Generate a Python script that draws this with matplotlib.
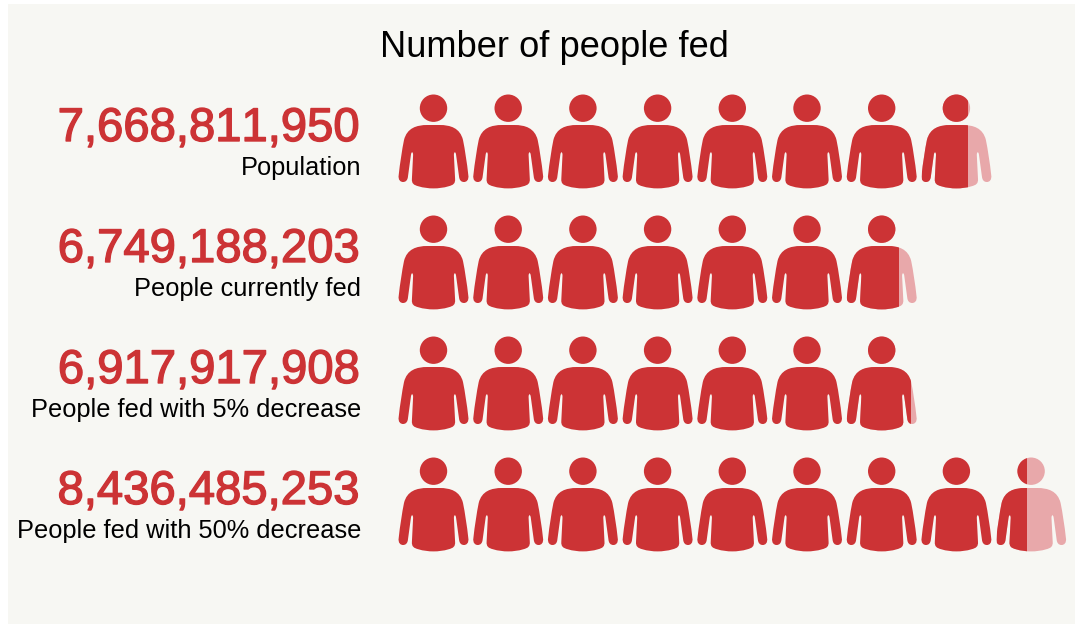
import matplotlib
matplotlib.use("Agg")
import matplotlib.pyplot as plt
from matplotlib.patches import PathPatch, Rectangle
from matplotlib.path import Path
from matplotlib.transforms import Affine2D
import matplotlib.patheffects as pe

plt.rcParams['font.family'] = ['Liberation Sans', 'DejaVu Sans']
# keeps the digits evenly spaced, "11" would otherwise close up
plt.rcParams['text.kerning_factor'] = 6

title = "Number of people fed"
labels = ["Population", "People currently fed", "People fed with 5% decrease", "People fed with 50% decrease"]
people = [7668811950, 6749188203, 6917917908, 8436485253]
per_icon = 1000000000

RED = "#CC3335"
PALE = "#E8A8AA"
BG = "#F7F7F3"


def half_body():
    # right half of the torso and arm, x from the centre line, y from the shoulder
    return [
        (Path.LINETO, (6, 0)),
        (Path.CURVE4, (17, 0)), (Path.CURVE4, (26.5, 3)), (Path.CURVE4, (29.5, 15)),
        (Path.CURVE4, (31.5, 25)), (Path.CURVE4, (33.5, 38)), (Path.CURVE4, (34.8, 50)),
        (Path.CURVE4, (35.6, 55)), (Path.CURVE4, (33, 57)), (Path.CURVE4, (30.5, 57)),
        (Path.CURVE4, (27.5, 57)), (Path.CURVE4, (26, 55)), (Path.CURVE4, (25.6, 52)),
        (Path.LINETO, (22.6, 30)),
        (Path.CURVE4, (22.2, 26.3)), (Path.CURVE4, (20.4, 26.3)), (Path.CURVE4, (20.4, 30)),
        (Path.LINETO, (21.6, 54)),
        (Path.CURVE4, (21.8, 58.5)), (Path.CURVE4, (20, 60)), (Path.CURVE4, (15, 61.3)),
        (Path.CURVE4, (10, 62.8)), (Path.CURVE4, (5, 63.4)), (Path.CURVE4, (0, 63.4)),
    ]


def person_path():
    half = half_body()
    codes = [Path.MOVETO] + [c for c, _ in half]
    verts = [(0, 0)] + [p for _, p in half]
    # mirror for the left side, walking back up to the shoulder
    for i in range(len(verts) - 2, -1, -1):
        codes.append(codes[i + 1])
        verts.append((-verts[i][0], verts[i][1]))
    codes.append(Path.CLOSEPOLY)
    verts.append((0, 0))
    body = Path(verts, codes)
    head = Path.circle((0, -16.8), 13.7)
    return Path.make_compound_path(body, head)


fig = plt.figure(figsize=(10.75, 6.24), dpi=100, facecolor="white")
ax = fig.add_axes([0, 0, 1, 1])
ax.set_xlim(0, 1075)
ax.set_ylim(624, 0)
ax.axis("off")
ax.add_patch(Rectangle((8, 4), 1067, 620, facecolor=BG, edgecolor="none"))

ax.text(554, 57, title, fontsize=26.1, color="black", ha="center", va="baseline")

person = person_path()
left = 399
pitch = 74.7
width = 69

for row, (value, label) in enumerate(zip(people, labels)):
    y = 125 + 121 * row
    ax.text(360, 141 + 121 * row, f"{value:,}", fontsize=34.0, color=RED, ha="right", va="baseline",
            path_effects=[pe.withStroke(linewidth=1.0, foreground=RED)])
    ax.text(361, 175 + 121 * row, label, fontsize=18.3, color="black", ha="right", va="baseline")

    count = value / per_icon
    for i in range(int(count) + 1):
        x0 = left + pitch * i
        place = Affine2D().translate(x0 + width / 2, y) + ax.transData
        share = min(count - i, 1)
        if share < 1:
            ax.add_patch(PathPatch(person, facecolor=PALE, edgecolor="none", transform=place))
        solid = PathPatch(person, facecolor=RED, edgecolor="none", transform=place)
        ax.add_patch(solid)
        if share < 1:
            clip = Rectangle((x0, y - 40), width * share, 120, transform=ax.transData)
            solid.set_clip_path(clip)

fig.savefig("out.png", dpi=100, facecolor=fig.get_facecolor())
plt.close(fig)
